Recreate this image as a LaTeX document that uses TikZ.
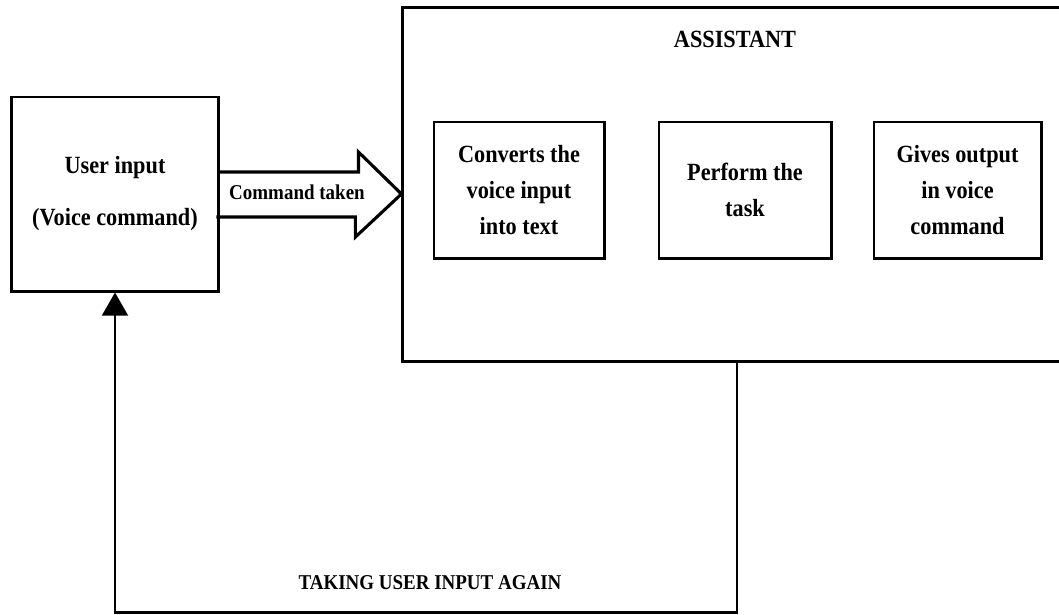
\documentclass[tikz,border=0pt]{standalone}
\usepackage{fontspec}
\setmainfont[FakeStretch=0.9]{Liberation Serif}
\usetikzlibrary{calc}
\usetikzlibrary{arrows.meta}

\begin{document}
\begin{tikzpicture}[x=0.025cm,y=-0.025cm,
        box/.style={draw,line width=2.1pt,align=center,inner sep=0pt,
            font=\fontsize{17.6}{25.6}\selectfont\bfseries},
        smalltext/.style={font=\fontsize{15}{18}\selectfont\bfseries},
        blockarrow/.style={line width=2.2pt,line join=miter},
        backline/.style={line width=1.6pt,-{Triangle[width=0.65cm,length=0.58cm]}}]
        \useasboundingbox (0,0) rectangle (1059,614);

        % User box
        \node[box,minimum width=5.15cm,minimum height=4.85cm] (user) at (115,194)
            {User input\\[11.4pt](Voice command)};

        % Assistant box
        \node[draw,line width=2.1pt,minimum width=16.7cm,minimum height=8.825cm] (assist) at (737,184.5) {};
        \node[font=\fontsize{17.6}{20}\selectfont\bfseries] (title) at (735,39) {ASSISTANT};

        % Inner steps
        \node[box,minimum width=4.25cm,minimum height=3.4cm] (conv) at (519,190)
            {Converts the\\voice input\\into text};
        \node[box,minimum width=4.3cm,minimum height=3.4cm] (perf) at (745,190)
            {Perform the\\task};
        \node[box,minimum width=4.175cm,minimum height=3.4cm] (give) at (957.5,190)
            {Gives output\\in voice\\command};

        % Command arrow
        \draw[blockarrow] ($(user.east)+(0,-22)$) -- ++(139,0) -- ++(0,-20)
            -- (assist.west |- user.east) -- ++(-46,43) -- ++(0,-20) -- ++(-139,0);
        \node[smalltext] (cmd) at (297,192) {Command taken};

        % Feedback loop
        \draw[backline] (assist.south) -- ++(0,250) -| (user.south);
        \node[smalltext] (again) at (430,583) {TAKING USER INPUT AGAIN};
    \end{tikzpicture}
\end{document}
